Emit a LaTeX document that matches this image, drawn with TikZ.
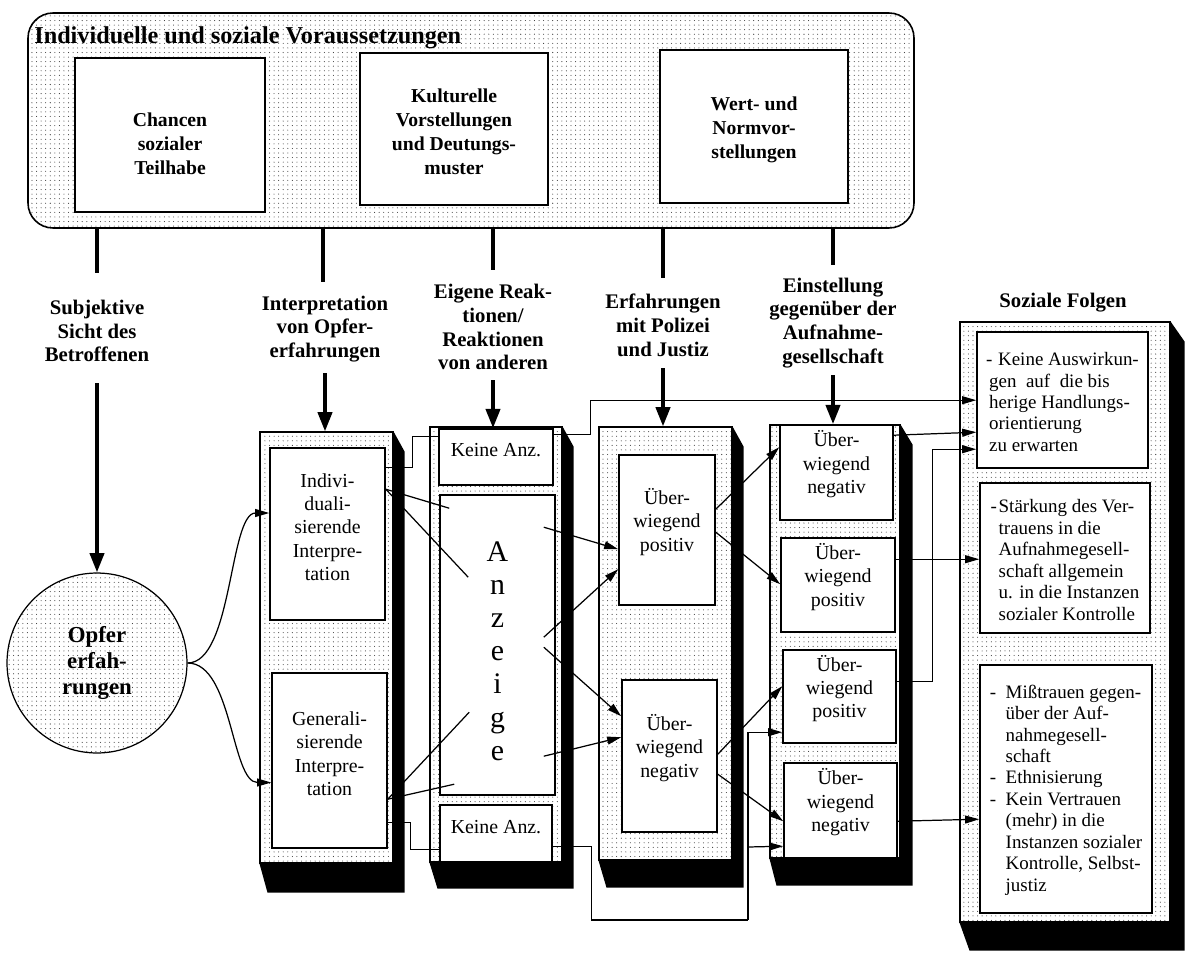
\documentclass[tikz,border=0pt]{standalone}
\usepackage{fontspec}
\setmainfont{Liberation Serif}
\usetikzlibrary{arrows.meta,patterns.meta,fit,calc}
\newcommand{\myfs}[2]{\fontsize{#1pt}{#2pt}\selectfont}
\begin{document}
\begin{tikzpicture}[x=0.02cm,y=-0.02cm,
  dotfill/.style={pattern={Dots[radius=0.3pt,distance=2.6pt]},pattern color=black!80},
  cont/.style={draw,line width=0.6pt,dotfill,inner sep=0pt},
  wbox/.style={draw,line width=0.9pt,fill=white,inner sep=0pt,align=center},
  btxt/.style={font=\bfseries\myfs{11.2}{13.6},align=center,inner sep=0pt},
  rtxt/.style={font=\myfs{11.3}{13.3}},
  stxt/.style={font=\myfs{10.8}{12.2},align=left,inner sep=0pt},
  lbl/.style={align=center,font=\bfseries\myfs{11.8}{13.6},inner sep=0pt},
  thk/.style={line width=2.2pt},
  bigarr/.style={line width=2.2pt,-{Triangle[length=11pt,width=8pt]}},
  conn/.style={line width=0.7pt},
  arr/.style={line width=0.7pt,-{Triangle[length=8pt,width=4.5pt]}},
  shd/.style={fill=black}
]
\useasboundingbox (0,0) rectangle (1188,957);

% ---------------- top container
\node[cont,line width=0.9pt,rounded corners=0.5cm,fit={(28,13)(914,228)}] (topc) {};
\node[anchor=base west,inner sep=0pt,font=\bfseries\myfs{13.8}{16}] (title) at (34,43) {Individuelle und soziale Voraussetzungen};
\node[wbox,fit={(75,58)(265,212)}] (chancen) {};
\node[btxt] (chancenT) at ($(chancen.center)+(0,9)$) {Chancen\\sozialer\\Teilhabe};
\node[wbox,fit={(360,53)(548,205)}] (kult) {};
\node[btxt] (kultT) at ($(kult.center)+(0,3)$) {Kulturelle\\Vorstellungen\\und Deutungs-\\muster};
\node[wbox,fit={(660,50)(848,203)}] (wert) {};
\node[btxt] (wertT) at ($(wert.center)+(0,3)$) {Wert- und\\Normvor-\\stellungen};

% ---------------- labels
\node[lbl] (L1) at (97,331) {Subjektive\\Sicht des\\Betroffenen};
\node[lbl] (L2) at (325,329) {Interpretation\\von Opfer-\\erfahrungen};
\node[lbl] (L3) at (493,327) {Eigene Reak-\\tionen/\\Reaktionen\\von anderen};
\node[lbl] (L4) at (663,325) {Erfahrungen\\mit Polizei\\und Justiz};
\node[lbl] (L5) at (833,323) {Einstellung\\gegenüber der\\Aufnahme-\\gesellschaft};
\node[lbl] (L6) at (1063,303) {Soziale Folgen};

% verticals from the top container
\coordinate (v1) at (97,273);
\coordinate (v2) at (323,282);
\coordinate (v3) at (493,270);
\coordinate (v4) at (663,278);
\coordinate (v5) at (833,265);
\foreach \v in {v1,v2,v3,v4,v5} \draw[thk] (topc.south -| \v) -- (\v);

% ---------------- circle
\node[circle,draw,line width=0.7pt,dotfill,minimum size=3.6cm,inner sep=0pt,align=center,
      font=\bfseries\myfs{13}{15}] (opfer) at (97,663) {Opfer\\erfah-\\rungen};

% ---------------- columns with shadows
\node[cont,fit={(260,432)(393,863)}] (c2) {};
\fill[shd] (c2.north east) -- ($(c2.north east)+(11,20)$) -- ($(c2.south east)+(11,29)$) -- ($(c2.south west)+(8,29)$) -- (c2.south west) -- (c2.south east) -- cycle;
\node[cont,fit={(430,427)(562,862)}] (c3) {};
\fill[shd] (c3.north east) -- ($(c3.north east)+(11,20)$) -- ($(c3.south east)+(11,26)$) -- ($(c3.south west)+(8,26)$) -- (c3.south west) -- (c3.south east) -- cycle;
\node[cont,fit={(599,427)(732,860)}] (c4) {};
\fill[shd] (c4.north east) -- ($(c4.north east)+(11,20)$) -- ($(c4.south east)+(11,27)$) -- ($(c4.south west)+(8,27)$) -- (c4.south west) -- (c4.south east) -- cycle;
\node[cont,fit={(770,425)(900,858)}] (c5) {};
\fill[shd] (c5.north east) -- ($(c5.north east)+(12,20)$) -- ($(c5.south east)+(12,27)$) -- ($(c5.south west)+(7,27)$) -- (c5.south west) -- (c5.south east) -- cycle;
\node[cont,fit={(960,322)(1170,922)}] (c6) {};
\fill[shd] (c6.north east) -- ($(c6.north east)+(14,20)$) -- ($(c6.south east)+(14,28)$) -- ($(c6.south west)+(10,28)$) -- (c6.south west) -- (c6.south east) -- cycle;

% ---------------- inner boxes
\node[wbox,rtxt,fit={(270,448)(385,620)}] (ind) {Indivi-\\duali-\\sierende\\Interpre-\\tation};
\node[wbox,rtxt,fit={(272,673)(387,848)}] (gen) {Generali-\\sierende\\Interpre-\\tation};
\node[wbox,rtxt,fit={(439,429)(553,485)}] (ka1) {Keine Anz.};
\node[wbox,fit={(440,495)(555,795)}] (anz) {};
\node[align=center,inner sep=0pt,font=\myfs{17}{18.9}] (anzT) at ($(anz.center)+(0,6)$) {A\\n\\z\\e\\i\\g\\e};
\node[wbox,rtxt,fit={(440,805)(552,862)}] (ka2) {Keine Anz.};
\node[wbox,rtxt,fit={(619,455)(715,605)}] (c4p) {Über-\\wiegend\\positiv};
\node[wbox,rtxt,fit={(622,680)(717,832)}] (c4n) {Über-\\wiegend\\negativ};
\node[wbox,rtxt,fit={(780,425)(893,520)}] (b1) {Über-\\wiegend\\negativ};
\node[wbox,rtxt,fit={(781,538)(895,632)}] (b2) {Über-\\wiegend\\positiv};
\node[wbox,rtxt,fit={(783,650)(896,743)}] (b3) {Über-\\wiegend\\positiv};
\node[wbox,rtxt,fit={(784,763)(897,858)}] (b4) {Über-\\wiegend\\negativ};

\node[wbox,fit={(977,332)(1148,468)}] (s1) {};
\node[stxt] (s1T) at ($(s1.center)+(0,2)$) {\makebox[6.8pt][l]{-}Keine Auswirkun-\\\hspace*{1.7pt}gen\ \ auf\ \ die bis\\\hspace*{1.7pt}herige Handlungs-\\\hspace*{1.7pt}orientierung\\\hspace*{1.7pt}zu erwarten};
\node[wbox,fit={(980,483)(1150,633)}] (s2) {};
\node[stxt] (s2T) at ($(s2.center)+(0,2)$) {\makebox[4.6pt][l]{-}Stärkung des Ver-\\\hspace*{4.6pt}trauens in die\\\hspace*{4.6pt}Aufnahmegesell-\\\hspace*{4.6pt}schaft allgemein\\\hspace*{4.6pt}u. in die Instanzen\\\hspace*{4.6pt}sozialer Kontrolle};
\node[wbox,fit={(980,665)(1152,913)}] (s3) {};
\node[stxt] (s3T) at ($(s3.center)+(0,1)$) {\makebox[9pt][l]{-}Mißtrauen gegen-\\\hspace*{9pt}über der Auf-\\\hspace*{9pt}nahmegesell-\\\hspace*{9pt}schaft\\\makebox[9pt][l]{-}Ethnisierung\\\makebox[9pt][l]{-}Kein Vertrauen\\\hspace*{9pt}(mehr) in die\\\hspace*{9pt}Instanzen sozialer\\\hspace*{9pt}Kontrolle, Selbst-\\\hspace*{9pt}justiz};

% ---------------- thick arrows from the labels
\coordinate (a1) at (97,383);
\coordinate (a2) at (325,373);
\coordinate (a3) at (493,380);
\coordinate (a4) at (663,368);
\coordinate (a5) at (833,375);
\draw[bigarr] (a1) -- (opfer.north);
\draw[bigarr] (a2) -- (a2 |- c2.north);
\draw[bigarr] (a3) -- (a3 |- ka1.north);
\draw[bigarr] (a4) -- (a4 |- c4.north);
\draw[bigarr] (a5) -- (a5 |- b1.north);

% ---------------- connectors
\draw[arr] (opfer.east) .. controls +(45,0) and +(-40,0) .. ($(ind.west)+(0,-21)$);
\draw[arr] (opfer.east) .. controls +(45,0) and +(-40,0) .. ($(gen.west)+(0,22)$);

\draw[conn] ($(ind.north east)+(0,20)$) -- ++(27,0) |- ($(ka1.north west)+(0,8)$);
\draw[conn] ($(ind.north east)+(0,42)$) -- ($(anz.north west)+(10,14)$);
\draw[conn] ($(ind.north east)+(0,42)$) -- ($(anz.north west)+(29,83)$);
\draw[conn] ($(gen.north east)+(0,127)$) -- ($(anz.north west)+(30,218)$);
\draw[conn] ($(gen.north east)+(0,127)$) -- ($(anz.north west)+(15,290)$);
\draw[conn] ($(gen.north east)+(0,150)$) -- ++(23,0) |- ($(ka2.north west)+(0,45)$);

\draw[arr] ($(ka1.north east)+(0,6)$) -- ++(37,0) |- ($(s1.north west)+(0,69)$);

\draw[arr] ($(anz.north east)+(-12,33)$) -- ($(c4p.north west)+(0,95)$);
\draw[arr] ($(anz.north east)+(-12,143)$) -- ($(c4p.north west)+(0,115)$);
\draw[arr] ($(anz.north east)+(-12,153)$) -- ($(c4n.north west)+(0,37)$);
\draw[arr] ($(anz.north east)+(-12,262)$) -- ($(c4n.north west)+(0,58)$);

\draw[arr] ($(c4p.north east)+(0,55)$) -- ($(b1.north west)+(0,23)$);
\draw[arr] ($(c4p.north east)+(0,78)$) -- ($(b2.north west)+(0,47)$);
\draw[arr] ($(c4n.north east)+(0,75)$) -- ($(b3.north west)+(0,37)$);
\draw[arr] ($(c4n.north east)+(0,95)$) -- ($(b4.north west)+(0,59)$);

\coordinate (kb) at (748,920);
\draw[conn] ($(ka2.north east)+(0,42)$) -- ++(39,0) |- (kb);
\draw[arr] (kb) |- ($(b3.north west)+(0,83)$);
\draw[arr] ($(kb)+(0,-73)$) -- ($(b4.north west)+(0,84)$);

\draw[arr] ($(b1.north east)+(0,11)$) -- ($(s1.north west)+(0,101)$);
\draw[arr] ($(b2.north east)+(0,22)$) -- ($(s2.north west)+(0,77)$);
\draw[arr] ($(b3.north east)+(0,32)$) -- ++(36,0) |- ($(s1.north west)+(0,118)$);
\draw[arr] ($(b4.north east)+(0,59)$) -- ($(s3.north west)+(0,155)$);
\end{tikzpicture}
\end{document}
